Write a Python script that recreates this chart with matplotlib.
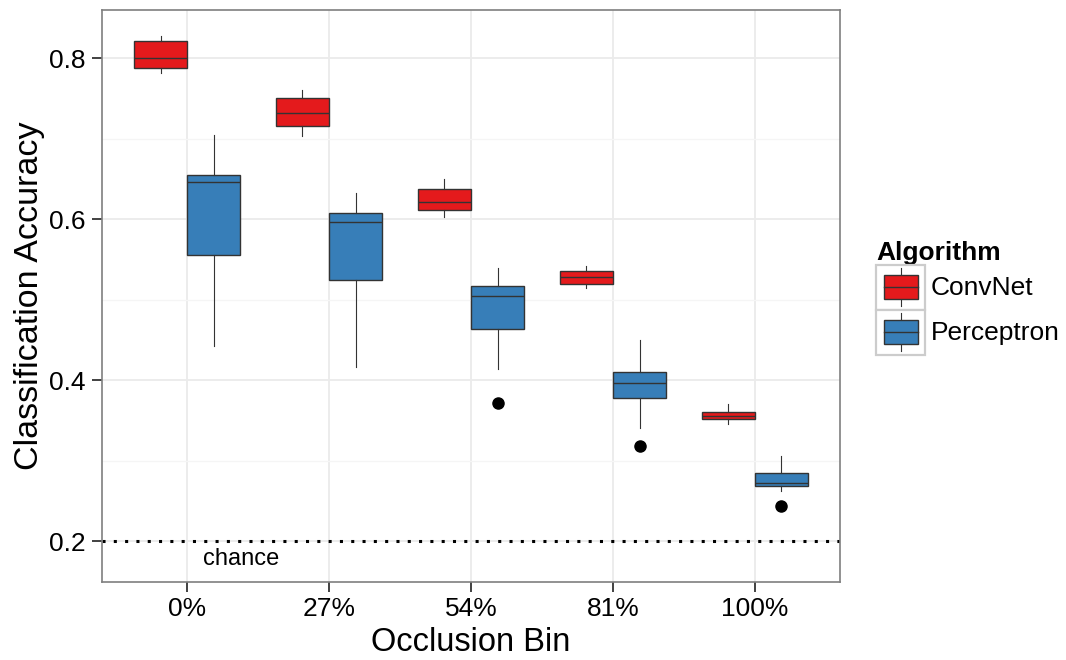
import matplotlib
matplotlib.use('Agg')
import matplotlib.pyplot as plt
from matplotlib.patches import Patch, Rectangle
from matplotlib.lines import Line2D
from matplotlib.legend_handler import HandlerBase

plt.rcParams['font.family'] = ['Liberation Sans', 'DejaVu Sans']

bins = ['0%', '27%', '54%', '81%', '100%']

# five-number summaries per occlusion bin
convnet_whislo = [0.781, 0.703, 0.603, 0.515, 0.346]
convnet_q1 = [0.788, 0.716, 0.611, 0.519, 0.352]
convnet_med = [0.800, 0.732, 0.621, 0.528, 0.356]
convnet_q3 = [0.821, 0.751, 0.637, 0.535, 0.360]
convnet_whishi = [0.828, 0.761, 0.650, 0.542, 0.370]
convnet_fliers = [[], [], [], [], []]

perceptron_whislo = [0.443, 0.416, 0.414, 0.341, 0.262]
perceptron_q1 = [0.555, 0.524, 0.463, 0.378, 0.268]
perceptron_med = [0.646, 0.596, 0.504, 0.397, 0.272]
perceptron_q3 = [0.655, 0.608, 0.517, 0.410, 0.284]
perceptron_whishi = [0.705, 0.633, 0.539, 0.450, 0.306]
perceptron_fliers = [[], [], [0.372], [0.318], [0.244]]

chance = 0.2

RED = '#E41A1C'
BLUE = '#377EB8'


def make_stats(lo, q1, med, q3, hi, fliers):
    return [dict(whislo=a, q1=b, med=c, q3=d, whishi=e, fliers=f)
            for a, b, c, d, e, f in zip(lo, q1, med, q3, hi, fliers)]


class BoxKey(HandlerBase):
    # legend key drawn as a little boxplot on a grey-bordered tile
    def create_artists(self, legend, orig_handle, xdescent, ydescent,
                       width, height, fontsize, trans):
        x0, y0 = -xdescent, -ydescent
        bg = Rectangle((x0, y0), width, height, fc='white', ec='#cccccc',
                       lw=1.6, transform=trans)
        box = Rectangle((x0 + 0.15 * width, y0 + 0.24 * height), 0.7 * width,
                        0.52 * height, fc=orig_handle.get_facecolor(),
                        ec='#333333', lw=1.0, transform=trans)
        med = Line2D([x0 + 0.15 * width, x0 + 0.85 * width], [y0 + 0.5 * height] * 2,
                     color='#333333', lw=1.0, transform=trans)
        wl = Line2D([x0 + 0.5 * width] * 2, [y0 + 0.08 * height, y0 + 0.24 * height],
                    color='#333333', lw=0.8, transform=trans)
        wh = Line2D([x0 + 0.5 * width] * 2, [y0 + 0.76 * height, y0 + 0.92 * height],
                    color='#333333', lw=0.8, transform=trans)
        return [bg, wl, wh, box, med]


fig = plt.figure(figsize=(10.66, 6.6), dpi=100)
ax = fig.add_axes([0.0957, 0.118, 0.6923, 0.867])

x = list(range(1, len(bins) + 1))
dodge = 0.1875
groups = [
    (make_stats(convnet_whislo, convnet_q1, convnet_med, convnet_q3,
                convnet_whishi, convnet_fliers), -dodge, RED),
    (make_stats(perceptron_whislo, perceptron_q1, perceptron_med, perceptron_q3,
                perceptron_whishi, perceptron_fliers), dodge, BLUE),
]
for stats, off, col in groups:
    ax.bxp(stats, positions=[i + off for i in x], widths=0.375,
           patch_artist=True, showcaps=False, manage_ticks=False,
           boxprops=dict(facecolor=col, edgecolor='#333333', linewidth=1.0),
           medianprops=dict(color='#333333', linewidth=1.0),
           whiskerprops=dict(color='#333333', linewidth=0.8),
           flierprops=dict(marker='o', markerfacecolor='black',
                           markeredgecolor='black', markersize=8))

ax.axhline(chance, color='black', lw=2.2, linestyle=(0, (1, 2.7)), zorder=1)
ax.text(1.38, 0.178, 'chance', ha='center', va='center', fontsize=17)

ax.set_xlim(0.4, 5.6)
ax.set_ylim(0.149, 0.86)
ax.set_xticks(x)
ax.set_xticklabels(bins)
ax.set_yticks([0.2, 0.4, 0.6, 0.8])
ax.set_yticklabels(['0.2', '0.4', '0.6', '0.8'])
ax.set_yticks([0.3, 0.5, 0.7], minor=True)

ax.grid(True, which='major', color='#ebebeb', lw=1.3, zorder=0)
ax.grid(True, which='minor', axis='y', color='#f5f5f5', lw=1.0, zorder=0)
ax.set_axisbelow(True)

ax.tick_params(axis='both', which='major', labelsize=19, length=7,
               width=1.3, color='#333333', pad=4)
ax.tick_params(axis='y', which='major', pad=5)
ax.tick_params(axis='both', which='minor', length=0)
for s in ax.spines.values():
    s.set_color('#7f7f7f')
    s.set_linewidth(1.2)

ax.set_xlabel('Occlusion Bin', fontsize=23.5, labelpad=4)
ax.set_ylabel('Classification Accuracy', fontsize=24.5, labelpad=3)

handles = [Patch(facecolor=RED, label='ConvNet'),
           Patch(facecolor=BLUE, label='Perceptron')]
leg = fig.legend(handles=handles, handler_map={Patch: BoxKey()},
                 loc='center left', bbox_to_anchor=(0.822, 0.549),
                 frameon=False, fontsize=19, title='Algorithm',
                 title_fontproperties=dict(weight='bold', size=19),
                 alignment='left', handlelength=1.86, handleheight=2.25,
                 labelspacing=0, handletextpad=0.2, borderpad=0,
                 borderaxespad=0)

fig.savefig('out.png', dpi=100)
